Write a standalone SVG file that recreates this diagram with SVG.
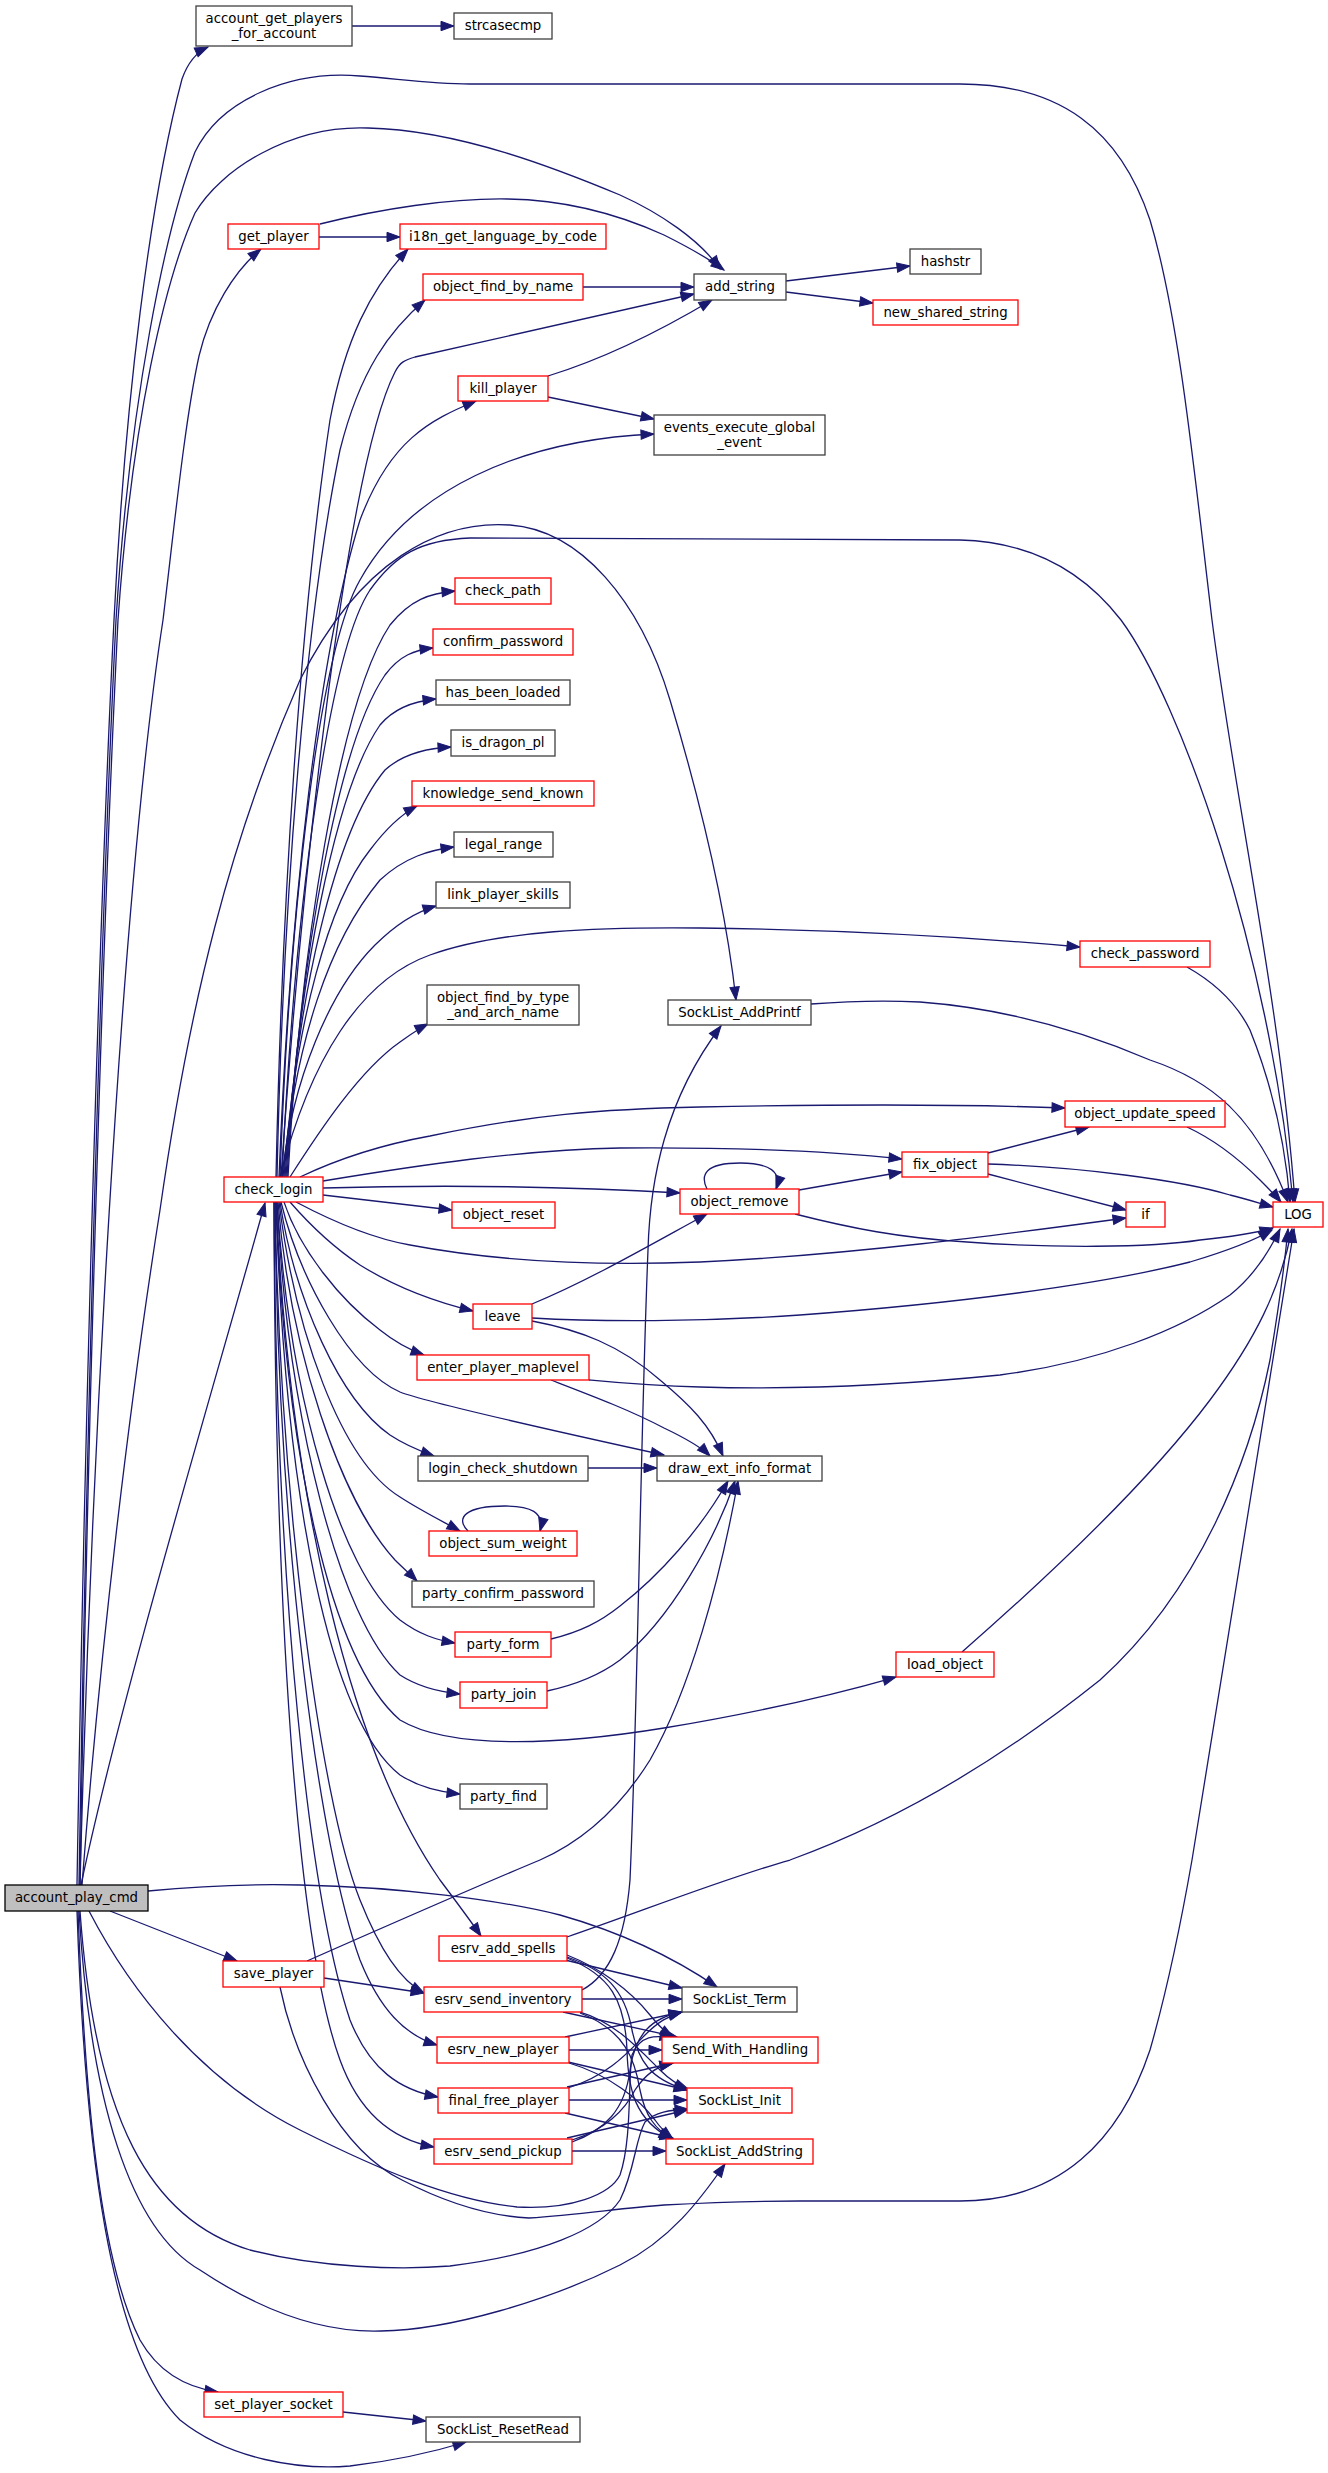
<svg xmlns="http://www.w3.org/2000/svg" width="1328" height="2473" viewBox="0 0 1328 2473">
<style>
.e{fill:none;stroke:#191970;stroke-width:1.3;marker-end:url(#a)}
.n rect{fill:#fff;stroke:#404040;stroke-width:1.3}
.r rect{stroke:#ff0000}
.g rect{fill:#bfbfbf;stroke:#000}
text{font-family:"DejaVu Sans","Liberation Sans",sans-serif;font-size:13.3px;text-anchor:middle;fill:#000}
</style>
<defs>
<marker id="a" markerUnits="userSpaceOnUse" markerWidth="14" markerHeight="10" refX="13" refY="5" orient="auto" overflow="visible"><path d="M0,0.3L13,5L0,9.7z" fill="#191970" stroke="#191970" stroke-width="1"/></marker>
</defs>
<rect width="1328" height="2473" fill="#fff"/>
<g id="connectors">
<!-- account_play_cmd upward -->
<path class="e" d="M77,1885 C85,1400 100,900 114,620 C125,400 150,200 182,79 C188,62 197,52 208,47"/>
<path class="e" d="M79,1885 C87,1400 102,900 116,620 C130,400 165,230 195,152 C220,100 290,70 360,76 C400,79 430,84 470,84 L960,84 C1060,84 1120,130 1150,220 C1180,320 1195,480 1212,620 C1235,800 1280,1000 1295,1202"/>
<path class="e" d="M80,1885 C88,1400 104,900 118,620 C132,420 165,280 195,213 C220,170 290,125 368,128 C460,130 560,170 620,195 C660,213 700,240 720,269"/>
<path class="e" d="M80,1885 C90,1500 120,900 163,620 C175,520 185,420 199,356 C210,310 235,270 261,249"/>
<path class="e" d="M81,1885 C120,1700 210,1400 265,1203"/>
<path class="e" d="M82,1885 C100,1650 130,1400 160,1210 C190,1000 230,840 300,680 C360,560 440,520 510,525 C580,530 640,600 670,700 C700,800 725,900 736,1000"/>
<!-- top helpers -->
<path class="e" d="M352,26 L454,26"/>
<path class="e" d="M319,237 L400,237"/>
<path class="e" d="M320,224 C380,209 450,198 508,199 C570,200 620,215 664,235 C690,248 708,258 724,270"/>
<path class="e" d="M583,287 L694,287"/>
<path class="e" d="M548,376 C610,357 670,325 712,300"/>
<path class="e" d="M786,281 L910,266"/>
<path class="e" d="M786,292 L873,303"/>
<path class="e" d="M548,397 L654,419"/>
<!-- check_login upward -->
<path class="e" d="M276,1177 C282,900 300,620 330,420 C345,340 370,290 408,249"/>
<path class="e" d="M277,1177 C283,900 305,620 340,450 C360,370 390,330 425,300"/>
<path class="e" d="M281,1177 C300,900 345,470 395,372 C400,362 405,360 415,357 L694,294"/>
<path class="e" d="M279,1177 C290,900 320,650 360,520 C390,440 430,420 476,401"/>
<path class="e" d="M280,1177 C290,900 320,650 360,580 C410,490 520,440 654,434"/>
<path class="e" d="M282,1177 C295,900 330,650 370,590 C395,555 420,540 470,538 L960,540 C1040,542 1090,580 1121,620 C1180,700 1270,950 1293,1202"/>
<path class="e" d="M288,1177 C300,950 340,700 390,625 C410,600 430,593 455,591"/>
<path class="e" d="M287,1177 C300,950 340,740 385,675 C400,655 415,650 433,648"/>
<path class="e" d="M286,1177 C298,980 335,790 380,725 C395,707 415,701 436,699"/>
<path class="e" d="M285,1177 C296,1000 335,830 385,770 C405,752 430,748 451,747"/>
<path class="e" d="M284,1177 C295,1020 330,900 370,850 C385,830 400,815 417,806"/>
<path class="e" d="M283,1177 C295,1040 330,940 380,880 C405,857 430,850 454,847"/>
<path class="e" d="M282,1177 C292,1080 330,990 375,945 C395,925 415,912 436,906"/>
<path class="e" d="M280,1177 C310,1060 360,980 430,955 C500,930 600,927 700,928 C850,930 980,938 1080,947"/>
<path class="e" d="M290,1177 C320,1130 360,1070 400,1042 C410,1035 418,1029 428,1024"/>
<path class="e" d="M300,1177 C340,1158 380,1145 430,1136 C530,1115 600,1109 700,1107 C850,1104 960,1104 1065,1108"/>
<path class="e" d="M323,1181 C420,1165 520,1150 620,1148 C760,1147 840,1152 902,1159"/>
<path class="e" d="M323,1188 C430,1185 560,1186 680,1193"/>
<path class="e" d="M323,1195 L452,1210"/>
<path class="e" d="M296,1202 C330,1220 370,1238 410,1245 C500,1262 600,1266 700,1262 C850,1255 1000,1235 1126,1218"/>
<!-- check_login downward -->
<path class="e" d="M290,1202 C310,1225 330,1245 360,1265 C400,1290 440,1303 473,1311"/>
<path class="e" d="M284,1202 C300,1250 340,1300 380,1330 C395,1342 410,1350 424,1355"/>
<path class="e" d="M281,1202 C300,1280 350,1370 400,1392 C420,1400 550,1430 664,1455"/>
<path class="e" d="M280,1202 C295,1300 340,1400 390,1435 C405,1445 420,1451 434,1456"/>
<path class="e" d="M279,1202 C295,1330 340,1460 400,1497 C420,1510 440,1520 460,1531"/>
<path class="e" d="M278,1202 C290,1350 340,1500 395,1560 C403,1568 410,1574 417,1581"/>
<path class="e" d="M277,1202 C290,1400 340,1570 400,1620 C420,1635 437,1640 455,1643"/>
<path class="e" d="M277,1202 C288,1420 340,1620 400,1675 C420,1688 440,1692 460,1694"/>
<path class="e" d="M276,1202 C285,1450 330,1660 400,1720 C450,1750 560,1745 664,1728 C760,1712 840,1693 896,1677"/>
<path class="e" d="M276,1202 C285,1500 330,1720 400,1775 C420,1788 440,1792 460,1794"/>
<path class="e" d="M276,1202 C290,1500 350,1750 440,1880 C455,1900 470,1920 481,1936"/>
<path class="e" d="M275,1202 C280,1500 320,1800 360,1900 C380,1950 400,1980 424,1993"/>
<path class="e" d="M275,1202 C278,1550 320,1850 360,1960 C380,2010 405,2035 437,2045"/>
<path class="e" d="M274,1202 C276,1600 310,1900 350,2020 C370,2070 400,2090 438,2097"/>
<path class="e" d="M274,1202 C275,1650 300,1950 340,2060 C360,2115 395,2140 434,2147"/>
<!-- object cluster -->
<path class="e" d="M707,1189 C700,1175 705,1163 740,1163 C770,1163 782,1172 776,1189"/>
<path class="e" d="M799,1190 L902,1172"/>
<path class="e" d="M795,1214 C850,1228 900,1238 967,1242 C1050,1248 1150,1248 1200,1240 C1230,1237 1255,1233 1273,1228"/>
<path class="e" d="M988,1153 L1089,1127"/>
<path class="e" d="M988,1164 C1080,1167 1180,1180 1230,1195 C1250,1200 1262,1204 1273,1207"/>
<path class="e" d="M988,1174 L1126,1210"/>
<path class="e" d="M1187,1127 C1215,1140 1240,1160 1260,1180 C1270,1190 1276,1196 1281,1202"/>
<path class="e" d="M1187,967 C1210,980 1235,1000 1250,1030 C1270,1080 1285,1140 1290,1202"/>
<path class="e" d="M811,1004 C850,1001 880,1000 920,1002 C1000,1008 1080,1030 1150,1060 C1210,1080 1255,1115 1288,1202"/>
<path class="e" d="M532,1304 C590,1280 650,1245 707,1214"/>
<path class="e" d="M532,1318 C600,1322 700,1322 800,1315 C950,1304 1100,1285 1190,1262 C1230,1250 1255,1240 1272,1230"/>
<path class="e" d="M532,1321 C580,1330 620,1345 660,1380 C690,1405 710,1425 723,1456"/>
<path class="e" d="M589,1380 C620,1383 650,1386 700,1387 C800,1390 900,1385 1000,1375 C1100,1362 1180,1330 1230,1295 C1255,1275 1270,1250 1280,1229"/>
<path class="e" d="M551,1380 C590,1395 630,1410 664,1428 C685,1438 700,1446 710,1456"/>
<path class="e" d="M588,1468 L657,1468"/>
<path class="e" d="M468,1531 C455,1518 465,1506 505,1506 C530,1506 545,1512 540,1531"/>
<path class="e" d="M551,1639 C580,1632 600,1622 620,1606 C660,1575 700,1530 728,1481"/>
<path class="e" d="M547,1691 C575,1685 600,1675 620,1660 C670,1620 715,1540 735,1481"/>
<path class="e" d="M307,1961 C400,1920 480,1885 540,1860 C590,1838 625,1800 650,1760 C690,1690 720,1580 738,1481"/>
<path class="e" d="M962,1652 C1050,1575 1150,1480 1210,1400 C1255,1340 1280,1290 1292,1229"/>
<path class="e" d="M567,1937 C640,1912 720,1880 790,1860 C900,1820 1000,1760 1100,1680 C1200,1590 1250,1460 1270,1360 C1280,1300 1285,1260 1288,1229"/>
<path class="e" d="M280,1987 C295,2060 340,2150 402,2180 C450,2205 490,2216 529,2218 C580,2215 620,2208 664,2205 C720,2202 760,2201 800,2201 L960,2201 C1060,2201 1120,2140 1150,2050 C1170,1980 1185,1900 1192,1860 C1210,1740 1250,1500 1294,1229"/>
<path class="e" d="M324,1978 L424,1993"/>
<path class="e" d="M582,1990 C610,1975 625,1940 630,1880 C638,1700 640,1450 648,1250 C650,1180 665,1100 721,1026"/>
<!-- account_play_cmd lower -->
<path class="e" d="M110,1911 L237,1961"/>
<path class="e" d="M148,1891 C200,1886 260,1884 300,1885 C400,1887 500,1900 560,1915 C620,1932 670,1955 717,1987"/>
<path class="e" d="M89,1911 C130,1990 200,2080 300,2130 C380,2170 450,2200 517,2207 C570,2210 610,2195 620,2175 C632,2140 628,2080 632,2055 C640,2035 655,2035 673,2038"/>
<path class="e" d="M80,1911 C95,2120 150,2220 250,2250 C320,2268 400,2270 450,2266 C540,2255 600,2230 620,2200 C635,2170 635,2140 645,2122 C655,2112 670,2110 688,2109"/>
<path class="e" d="M79,1911 C90,2100 130,2230 200,2270 C260,2310 320,2333 381,2331 C450,2330 550,2300 620,2265 C670,2240 700,2200 725,2164"/>
<path class="e" d="M78,1911 C85,2100 100,2260 140,2340 C160,2375 190,2388 218,2392"/>
<path class="e" d="M77,1911 C85,2150 110,2350 180,2420 C230,2460 300,2470 350,2466 C400,2460 440,2450 466,2442"/>
<path class="e" d="M343,2412 L426,2421"/>
<!-- esrv cluster -->
<path class="e" d="M565,1960 L682,1988"/>
<path class="e" d="M567,1955 C600,1968 630,1990 650,2015 C658,2025 665,2032 673,2037"/>
<path class="e" d="M567,1957 C605,1970 625,1990 632,2030 C638,2060 650,2080 688,2090"/>
<path class="e" d="M567,1958 C610,1975 625,2000 627,2050 C628,2090 635,2120 672,2139"/>
<path class="e" d="M582,1999 L682,1999"/>
<path class="e" d="M563,2012 L677,2037"/>
<path class="e" d="M580,2012 C615,2022 640,2050 660,2070 C670,2080 678,2085 688,2089"/>
<path class="e" d="M580,2013 C625,2030 635,2060 640,2090 C645,2115 655,2130 673,2139"/>
<path class="e" d="M565,2037 L682,2012"/>
<path class="e" d="M569,2050 L662,2050"/>
<path class="e" d="M568,2062 L687,2090"/>
<path class="e" d="M569,2063 C610,2075 640,2100 655,2120 C662,2130 668,2135 673,2139"/>
<path class="e" d="M568,2088 C610,2075 630,2050 645,2035 C658,2022 668,2016 682,2012"/>
<path class="e" d="M567,2087 L673,2063"/>
<path class="e" d="M569,2100 L687,2100"/>
<path class="e" d="M565,2113 L673,2138"/>
<path class="e" d="M572,2142 C605,2130 625,2110 630,2070 C635,2035 650,2018 682,2012"/>
<path class="e" d="M572,2140 C605,2130 625,2110 635,2090 C645,2075 655,2067 673,2063"/>
<path class="e" d="M567,2138 L687,2110"/>
<path class="e" d="M572,2151 L666,2151"/>
</g>
<g id="n_account_play_cmd" class="n g"><rect x="5" y="1885" width="143" height="26"/><text x="76.5" y="1902">account_play_cmd</text></g>
<g id="n_account_get_players_for_account" class="n"><rect x="196" y="6" width="156" height="40"/><text x="274" y="22.5">account_get_players</text><text x="274" y="37.5">_for_account</text></g>
<g id="n_strcasecmp" class="n"><rect x="454" y="13" width="98" height="26"/><text x="503" y="30">strcasecmp</text></g>
<g id="n_LOG" class="n r"><rect x="1273" y="1202" width="50" height="25"/><text x="1298" y="1219">LOG</text></g>
<g id="n_get_player" class="n r"><rect x="228" y="224" width="91" height="25"/><text x="273.5" y="241">get_player</text></g>
<g id="n_i18n_get_language_by_code" class="n r"><rect x="400" y="224" width="206" height="25"/><text x="503" y="241">i18n_get_language_by_code</text></g>
<g id="n_add_string" class="n"><rect x="694" y="274" width="92" height="26"/><text x="740" y="291">add_string</text></g>
<g id="n_hashstr" class="n"><rect x="910" y="249" width="71" height="25"/><text x="945.5" y="266">hashstr</text></g>
<g id="n_new_shared_string" class="n r"><rect x="873" y="300" width="145" height="25"/><text x="945.5" y="317">new_shared_string</text></g>
<g id="n_object_find_by_name" class="n r"><rect x="423" y="274" width="160" height="26"/><text x="503" y="291">object_find_by_name</text></g>
<g id="n_kill_player" class="n r"><rect x="458" y="376" width="90" height="25"/><text x="503" y="393">kill_player</text></g>
<g id="n_events_execute_global_event" class="n"><rect x="654" y="415" width="171" height="40"/><text x="739.5" y="431.5">events_execute_global</text><text x="739.5" y="446.5">_event</text></g>
<g id="n_check_path" class="n r"><rect x="455" y="578" width="96" height="26"/><text x="503" y="595">check_path</text></g>
<g id="n_confirm_password" class="n r"><rect x="433" y="629" width="140" height="26"/><text x="503" y="646">confirm_password</text></g>
<g id="n_has_been_loaded" class="n"><rect x="436" y="680" width="134" height="25"/><text x="503" y="697">has_been_loaded</text></g>
<g id="n_is_dragon_pl" class="n"><rect x="451" y="730" width="104" height="26"/><text x="503" y="747">is_dragon_pl</text></g>
<g id="n_knowledge_send_known" class="n r"><rect x="412" y="781" width="182" height="25"/><text x="503" y="798">knowledge_send_known</text></g>
<g id="n_legal_range" class="n"><rect x="454" y="832" width="99" height="25"/><text x="503.5" y="849">legal_range</text></g>
<g id="n_link_player_skills" class="n"><rect x="436" y="882" width="134" height="26"/><text x="503" y="899">link_player_skills</text></g>
<g id="n_check_password" class="n r"><rect x="1080" y="941" width="130" height="26"/><text x="1145" y="958">check_password</text></g>
<g id="n_object_find_by_type_and_arch_name" class="n"><rect x="427" y="985" width="152" height="40"/><text x="503" y="1001.5">object_find_by_type</text><text x="503" y="1016.5">_and_arch_name</text></g>
<g id="n_SockList_AddPrintf" class="n"><rect x="668" y="1000" width="143" height="25"/><text x="739.5" y="1017">SockList_AddPrintf</text></g>
<g id="n_object_update_speed" class="n r"><rect x="1065" y="1101" width="160" height="26"/><text x="1145" y="1118">object_update_speed</text></g>
<g id="n_fix_object" class="n r"><rect x="902" y="1152" width="86" height="25"/><text x="945" y="1169">fix_object</text></g>
<g id="n_object_remove" class="n r"><rect x="680" y="1189" width="119" height="25"/><text x="739.5" y="1206">object_remove</text></g>
<g id="n_if" class="n r"><rect x="1126" y="1202" width="39" height="25"/><text x="1145.5" y="1219">if</text></g>
<g id="n_check_login" class="n r"><rect x="224" y="1177" width="99" height="25"/><text x="273.5" y="1194">check_login</text></g>
<g id="n_object_reset" class="n r"><rect x="452" y="1202" width="103" height="26"/><text x="503.5" y="1219">object_reset</text></g>
<g id="n_leave" class="n r"><rect x="473" y="1304" width="59" height="25"/><text x="502.5" y="1321">leave</text></g>
<g id="n_enter_player_maplevel" class="n r"><rect x="417" y="1355" width="172" height="25"/><text x="503" y="1372">enter_player_maplevel</text></g>
<g id="n_draw_ext_info_format" class="n"><rect x="657" y="1456" width="165" height="25"/><text x="739.5" y="1473">draw_ext_info_format</text></g>
<g id="n_login_check_shutdown" class="n"><rect x="418" y="1456" width="170" height="25"/><text x="503" y="1473">login_check_shutdown</text></g>
<g id="n_object_sum_weight" class="n r"><rect x="429" y="1531" width="148" height="25"/><text x="503" y="1548">object_sum_weight</text></g>
<g id="n_party_confirm_password" class="n"><rect x="412" y="1581" width="182" height="26"/><text x="503" y="1598">party_confirm_password</text></g>
<g id="n_party_form" class="n r"><rect x="455" y="1632" width="96" height="25"/><text x="503" y="1649">party_form</text></g>
<g id="n_party_join" class="n r"><rect x="460" y="1682" width="87" height="26"/><text x="503.5" y="1699">party_join</text></g>
<g id="n_load_object" class="n r"><rect x="896" y="1652" width="98" height="25"/><text x="945" y="1669">load_object</text></g>
<g id="n_party_find" class="n"><rect x="460" y="1784" width="87" height="25"/><text x="503.5" y="1801">party_find</text></g>
<g id="n_esrv_add_spells" class="n r"><rect x="439" y="1936" width="128" height="25"/><text x="503" y="1953">esrv_add_spells</text></g>
<g id="n_save_player" class="n r"><rect x="223" y="1961" width="101" height="26"/><text x="273.5" y="1978">save_player</text></g>
<g id="n_esrv_send_inventory" class="n r"><rect x="424" y="1987" width="158" height="25"/><text x="503" y="2004">esrv_send_inventory</text></g>
<g id="n_SockList_Term" class="n"><rect x="682" y="1987" width="115" height="25"/><text x="739.5" y="2004">SockList_Term</text></g>
<g id="n_esrv_new_player" class="n r"><rect x="437" y="2037" width="132" height="26"/><text x="503" y="2054">esrv_new_player</text></g>
<g id="n_Send_With_Handling" class="n r"><rect x="662" y="2037" width="156" height="26"/><text x="740" y="2054">Send_With_Handling</text></g>
<g id="n_final_free_player" class="n r"><rect x="438" y="2088" width="131" height="25"/><text x="503.5" y="2105">final_free_player</text></g>
<g id="n_SockList_Init" class="n r"><rect x="687" y="2088" width="105" height="25"/><text x="739.5" y="2105">SockList_Init</text></g>
<g id="n_esrv_send_pickup" class="n r"><rect x="434" y="2139" width="138" height="25"/><text x="503" y="2156">esrv_send_pickup</text></g>
<g id="n_SockList_AddString" class="n r"><rect x="666" y="2139" width="147" height="25"/><text x="739.5" y="2156">SockList_AddString</text></g>
<g id="n_set_player_socket" class="n r"><rect x="204" y="2392" width="139" height="25"/><text x="273.5" y="2409">set_player_socket</text></g>
<g id="n_SockList_ResetRead" class="n"><rect x="426" y="2417" width="154" height="25"/><text x="503" y="2434">SockList_ResetRead</text></g>
</svg>
